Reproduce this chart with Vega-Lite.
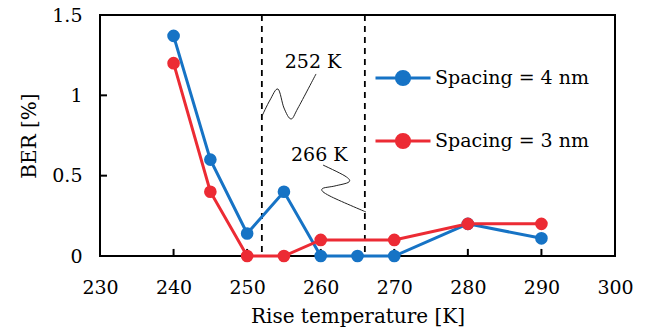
{
  "$schema": "https://vega.github.io/schema/vega-lite/v6.json",
  "width": 515,
  "height": 241,
  "autosize": "none",
  "padding": {"left": 100, "top": 15, "right": 34, "bottom": 77},
  "config": {
    "font": "DejaVu Serif",
    "view": {"stroke": "black", "strokeWidth": 2},
    "axis": {
      "grid": false,
      "zindex": 1,
      "domain": false,
      "ticks": false,
      "tickSize": 0,
      "labelColor": "black",
      "labelFontSize": 19,
      "titleColor": "black",
      "titleFontSize": 20,
      "titleFontWeight": "normal"
    },
    "legend": {
      "orient": "none", "legendX": 274, "legendY": 34, "title": null,
      "symbolType": "M-1,0H1M0.24,0A0.24,0.24 0 1,1 -0.24,0A0.24,0.24 0 1,1 0.24,0Z",
      "symbolSize": 3025, "symbolStrokeWidth": 3, "symbolOpacity": 1,
      "labelFontSize": 19, "labelColor": "black", "labelFont": "DejaVu Serif",
      "rowPadding": 21, "labelOffset": 3
    }
  },
  "datasets": {
    "series": [
      {"x": 240, "y": 1.37, "s": "Spacing = 4 nm"},
      {"x": 245, "y": 0.6, "s": "Spacing = 4 nm"},
      {"x": 250, "y": 0.14, "s": "Spacing = 4 nm"},
      {"x": 255, "y": 0.4, "s": "Spacing = 4 nm"},
      {"x": 260, "y": 0, "s": "Spacing = 4 nm"},
      {"x": 265, "y": 0, "s": "Spacing = 4 nm"},
      {"x": 270, "y": 0, "s": "Spacing = 4 nm"},
      {"x": 280, "y": 0.2, "s": "Spacing = 4 nm"},
      {"x": 290, "y": 0.11, "s": "Spacing = 4 nm"},
      {"x": 240, "y": 1.2, "s": "Spacing = 3 nm"},
      {"x": 245, "y": 0.4, "s": "Spacing = 3 nm"},
      {"x": 250, "y": 0, "s": "Spacing = 3 nm"},
      {"x": 255, "y": 0, "s": "Spacing = 3 nm"},
      {"x": 260, "y": 0.1, "s": "Spacing = 3 nm"},
      {"x": 270, "y": 0.1, "s": "Spacing = 3 nm"},
      {"x": 280, "y": 0.2, "s": "Spacing = 3 nm"},
      {"x": 290, "y": 0.2, "s": "Spacing = 3 nm"}
    ],
    "rules": [{"x": 252}, {"x": 266}],
    "xticks": [{"x": 240}, {"x": 250}, {"x": 260}, {"x": 270}, {"x": 280}, {"x": 290}],
    "yticks": [{"y": 0.5}, {"y": 1}],
    "notes": [
      {"x": 258.95, "y": 1.207, "label": "252 K"},
      {"x": 259.8, "y": 0.629, "label": "266 K"}
    ],
    "squiggles": [
      {"id": "a", "i": 0, "x": 259.36, "y": 1.133},
      {"id": "a", "i": 1, "x": 256.91, "y": 0.921},
      {"id": "a", "i": 2, "x": 255.96, "y": 0.853},
      {"id": "a", "i": 3, "x": 255.01, "y": 0.921},
      {"id": "a", "i": 4, "x": 254.19, "y": 1.039},
      {"id": "a", "i": 5, "x": 253.11, "y": 0.971},
      {"id": "a", "i": 6, "x": 252.02, "y": 0.871},
      {"id": "b", "i": 0, "x": 260.31, "y": 0.566},
      {"id": "b", "i": 1, "x": 263.3, "y": 0.498},
      {"id": "b", "i": 2, "x": 263.84, "y": 0.461},
      {"id": "b", "i": 3, "x": 261.94, "y": 0.436},
      {"id": "b", "i": 4, "x": 260.17, "y": 0.417},
      {"id": "b", "i": 5, "x": 261.26, "y": 0.373},
      {"id": "b", "i": 6, "x": 266.15, "y": 0.274}
    ]
  },
  "layer": [
    {
      "data": {"name": "rules"},
      "mark": {"type": "rule", "color": "black", "strokeWidth": 1.8, "strokeDash": [6, 5]},
      "encoding": {
        "x": {"field": "x", "type": "quantitative", "scale": {"domain": [230, 300], "nice": false},
              "axis": {"title": "Rise temperature [K]", "values": [230, 240, 250, 260, 270, 280, 290, 300], "labelPadding": 22, "titlePadding": 9, "labelFlush": false}}
      }
    },
    {
      "data": {"name": "xticks"},
      "mark": {"type": "rule", "color": "black", "strokeWidth": 2},
      "encoding": {
        "x": {"field": "x", "type": "quantitative",
              "axis": {"title": "Rise temperature [K]", "values": [230, 240, 250, 260, 270, 280, 290, 300], "labelPadding": 22, "titlePadding": 9, "labelFlush": false}},
        "y": {"datum": 0, "type": "quantitative",
              "axis": {"title": "BER  [%]", "values": [0, 0.5, 1, 1.5], "labelExpr": "'' + datum.value", "labelPadding": 18, "titlePadding": 12, "labelFlush": false}},
        "y2": {"datum": 0.044}
      }
    },
    {
      "data": {"name": "yticks"},
      "mark": {"type": "rule", "color": "black", "strokeWidth": 2},
      "encoding": {
        "y": {"field": "y", "type": "quantitative",
              "axis": {"title": "BER  [%]", "values": [0, 0.5, 1, 1.5], "labelExpr": "'' + datum.value", "labelPadding": 18, "titlePadding": 12, "labelFlush": false}},
        "x": {"datum": 230, "type": "quantitative",
              "axis": {"title": "Rise temperature [K]", "values": [230, 240, 250, 260, 270, 280, 290, 300], "labelPadding": 22, "titlePadding": 9, "labelFlush": false}},
        "x2": {"datum": 230.95}
      }
    },
    {
      "data": {"name": "series"},
      "mark": {"type": "line", "strokeWidth": 3},
      "encoding": {
        "x": {"field": "x", "type": "quantitative", "scale": {"domain": [230, 300], "nice": false},
              "axis": {"title": "Rise temperature [K]", "values": [230, 240, 250, 260, 270, 280, 290, 300], "labelPadding": 22, "titlePadding": 9, "labelFlush": false}},
        "y": {"field": "y", "type": "quantitative", "scale": {"domain": [0, 1.5], "nice": false},
              "axis": {"title": "BER  [%]", "values": [0, 0.5, 1, 1.5], "labelExpr": "'' + datum.value", "labelPadding": 18, "titlePadding": 12, "labelFlush": false}},
        "color": {"field": "s", "type": "nominal", "scale": {"domain": ["Spacing = 4 nm", "Spacing = 3 nm"], "range": ["#1673C5", "#EC2B34"]}}
      }
    },
    {
      "data": {"name": "series"},
      "mark": {"type": "point", "filled": true, "size": 160, "opacity": 1},
      "encoding": {
        "x": {"field": "x", "type": "quantitative", "scale": {"domain": [230, 300], "nice": false},
              "axis": {"title": "Rise temperature [K]", "values": [230, 240, 250, 260, 270, 280, 290, 300], "labelPadding": 22, "titlePadding": 9, "labelFlush": false}},
        "y": {"field": "y", "type": "quantitative", "scale": {"domain": [0, 1.5], "nice": false},
              "axis": {"title": "BER  [%]", "values": [0, 0.5, 1, 1.5], "labelExpr": "'' + datum.value", "labelPadding": 18, "titlePadding": 12, "labelFlush": false}},
        "color": {"field": "s", "type": "nominal", "scale": {"domain": ["Spacing = 4 nm", "Spacing = 3 nm"], "range": ["#1673C5", "#EC2B34"]}}
      }
    },
    {
      "data": {"name": "notes"},
      "mark": {"type": "text", "fontSize": 19, "color": "black"},
      "encoding": {
        "x": {"field": "x", "type": "quantitative"},
        "y": {"field": "y", "type": "quantitative"},
        "text": {"field": "label"}
      }
    },
    {
      "data": {"name": "squiggles"},
      "mark": {"type": "line", "interpolate": "cardinal", "strokeWidth": 1, "color": "#222"},
      "encoding": {
        "x": {"field": "x", "type": "quantitative"},
        "y": {"field": "y", "type": "quantitative"},
        "detail": {"field": "id"},
        "order": {"field": "i", "type": "quantitative"}
      }
    }
  ]
}
